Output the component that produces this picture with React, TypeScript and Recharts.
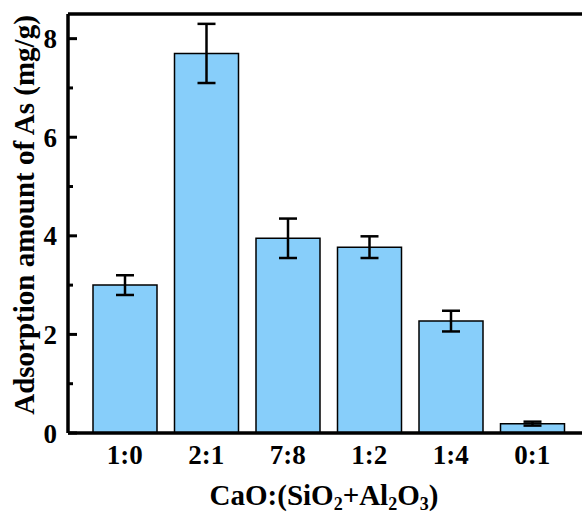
import React from 'react';
import { BarChart, Bar, XAxis, YAxis, ErrorBar, ReferenceLine, Label } from 'recharts';

const categories = ['1:0', '2:1', '7:8', '1:2', '1:4', '0:1'];
const adsorption = [3.0, 7.7, 3.95, 3.77, 2.27, 0.19];
const errors = [0.2, 0.6, 0.4, 0.22, 0.21, 0.04];
const yTicks = [0, 1, 2, 3, 4, 5, 6, 7, 8];

const data = categories.map((name, i) => ({ name, value: adsorption[i], err: errors[i] }));

const FONT = '"Liberation Serif", "Times New Roman", serif';
const AXIS_X = 68;

const YTick = (props: any) => {
  const { y, payload } = props;
  const major = payload.value % 2 === 0;
  return (
    <g>
      <line x1={AXIS_X} x2={AXIS_X + (major ? 9 : 5)} y1={y} y2={y} stroke="#000" strokeWidth={3} />
      {major && (
        <text x={57} y={y} dy={9.5} textAnchor="end" fontFamily={FONT} fontWeight="bold" fontSize={27} fill="#000">
          {payload.value}
        </text>
      )}
    </g>
  );
};

const XLabel = () => (
  <text x={324} y={505} textAnchor="middle" fontFamily={FONT} fontWeight="bold" fontSize={29} fill="#000">
    CaO:(SiO<tspan dy={5} fontSize={18}>2</tspan>
    <tspan dy={-5}>+Al</tspan>
    <tspan dy={5} fontSize={18}>2</tspan>
    <tspan dy={-5}>O</tspan>
    <tspan dy={5} fontSize={18}>3</tspan>
    <tspan dy={-5}>)</tspan>
  </text>
);

const YLabel = () => (
  <text
    x={34}
    y={215}
    transform="rotate(-90 34 215)"
    textAnchor="middle"
    fontFamily={FONT}
    fontWeight="bold"
    fontSize={29}
    fill="#000"
  >
    Adsorption amount of As (mg/g)
  </text>
);

export default function App() {
  return (
    <div style={{ position: 'absolute', left: 0, top: 0, background: '#fff' }}>
      <BarChart width={582} height={515} data={data} margin={{ top: 14, right: 0, bottom: 0, left: 0 }}>
        <XAxis
          dataKey="name"
          height={82}
          padding={{ left: 16, right: 9 }}
          axisLine={{ stroke: '#000', strokeWidth: 3.5 }}
          tickLine={false}
          tick={{ fontFamily: FONT, fontWeight: 'bold', fontSize: 27, fill: '#000' }}
          tickMargin={6}
        >
          <Label content={<XLabel />} />
        </XAxis>
        <YAxis
          width={AXIS_X}
          domain={[0, 8.5]}
          ticks={yTicks}
          interval={0}
          axisLine={{ stroke: '#000', strokeWidth: 3.5 }}
          tickLine={false}
          tick={<YTick />}
        >
          <Label content={<YLabel />} />
        </YAxis>
        <ReferenceLine y={8.5} stroke="#000" strokeWidth={3.5} />
        <Bar dataKey="value" barSize={64} fill="#87CEFA" stroke="#000" strokeWidth={1.5} isAnimationActive={false}>
          <ErrorBar dataKey="err" width={9} stroke="#000" strokeWidth={2.5} direction="y" />
        </Bar>
      </BarChart>
    </div>
  );
}
